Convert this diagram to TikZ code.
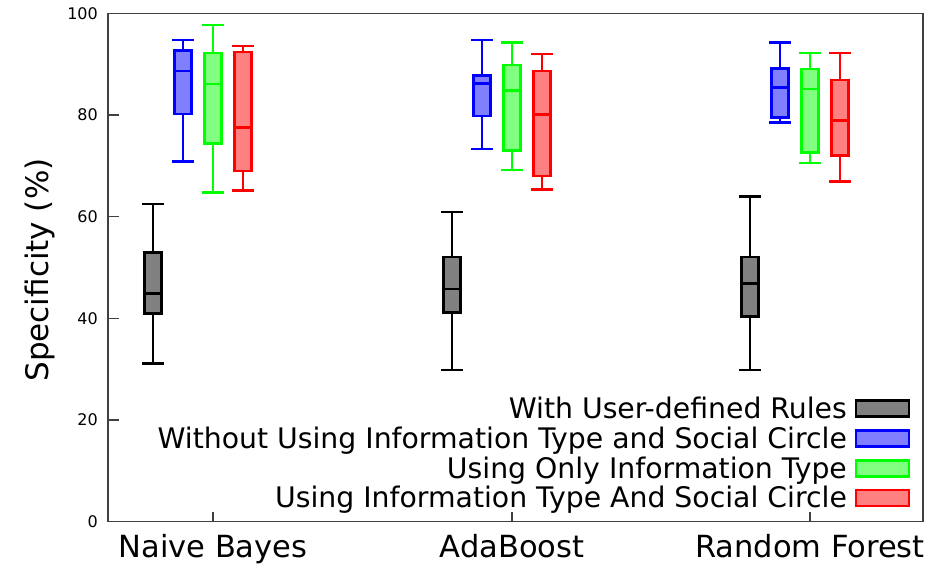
\documentclass[tikz,border=0pt]{standalone}
\usepackage{fontspec}
\setmainfont{DejaVu Sans}
\newcommand\bxplot[7]{% #1 x, #2 low, #3 q1, #4 med, #5 q3, #6 high, #7 colour
  \draw[whisk,#7] (#1,#2) -- (#1,#3) (#1,#5) -- (#1,#6)
    (#1-11,#2) -- (#1+11,#2) (#1-11,#6) -- (#1+11,#6);
  \filldraw[whisk,draw=#7,fill=#7!50] (#1-8.5,#3) rectangle (#1+8.5,#5);
  \draw[whisk,#7] (#1-8.5,#4) -- (#1+8.5,#4);
}
\begin{document}
\begin{tikzpicture}[x=1pt,y=1pt,
  frame/.style={draw=black!75,line width=1.8pt},
  whisk/.style={line width=2.6pt},
  ticklab/.style={font=\fontsize{16}{18}\selectfont,anchor=east,inner sep=0pt},
  catlab/.style={font=\fontsize{30.5}{34}\selectfont,anchor=base,inner sep=0pt},
  keylab/.style={font=\fontsize{28.3}{32}\selectfont,anchor=base east,inner sep=0pt},
  swatch/.style={whisk,draw=#1,fill=#1!50}]
\useasboundingbox (0,0) rectangle (940,568);
\begin{scope}[shift={(0,46.5)},y=5.08pt]
  % frame
  \draw[frame] (108,0) rectangle (923,100);
  % y ticks
  \foreach \v in {0,20,40,60,80,100}{
    \draw[frame,line width=1.4pt] (108,\v) -- (119,\v);
    \node[ticklab] (yt\v) at (98,\v) {\v};
  }
  % x ticks
  \foreach \xx in {213,512,810}{
    \draw[frame,line width=1.4pt] (\xx,0) -- (\xx,1.8);
  }
  % Naive Bayes
  \bxplot{153}{31.1}{40.9}{44.9}{52.9}{62.5}{black}
  \bxplot{183}{70.9}{80.2}{88.7}{92.7}{94.8}{blue}
  \bxplot{213}{64.8}{74.4}{86.1}{92.2}{97.7}{green}
  \bxplot{243}{65.1}{69.0}{77.5}{92.4}{93.6}{red}
  % AdaBoost
  \bxplot{452}{29.8}{41.2}{45.8}{52.1}{60.9}{black}
  \bxplot{482}{73.3}{79.8}{86.2}{87.8}{94.8}{blue}
  \bxplot{512}{69.2}{73.0}{84.9}{89.9}{94.3}{green}
  \bxplot{542}{65.4}{68.0}{80.1}{88.7}{92.0}{red}
  % Random Forest
  \bxplot{750}{29.8}{40.4}{46.8}{52.1}{64.0}{black}
  \bxplot{780}{78.6}{79.5}{85.4}{89.2}{94.3}{blue}
  \bxplot{810}{70.6}{72.6}{85.1}{89.1}{92.2}{green}
  \bxplot{840}{66.9}{72.0}{78.9}{86.9}{92.2}{red}
\end{scope}
% category labels
\node[catlab] (c1) at (213,11) {Naive Bayes};
\node[catlab] (c2) at (512,11) {AdaBoost};
\node[catlab] (c3) at (810,11) {Random Forest};
% y label
\node[font=\fontsize{31}{35}\selectfont,rotate=90] (ylab) at (40,298) {Specificity (\%)};
% legend
\node[keylab] (k1) at (847,149.3) {With User-defined Rules};
\node[keylab] (k2) at (847,119.7) {Without Using Information Type and Social Circle};
\node[keylab] (k3) at (847,89.7) {Using Only Information Type};
\node[keylab] (k4) at (847,60.2) {Using Information Type And Social Circle};
\filldraw[swatch=black] (856,151.3) rectangle (909,167.3);
\filldraw[swatch=blue] (856,121.7) rectangle (909,137.7);
\filldraw[swatch=green] (856,91.7) rectangle (909,107.7);
\filldraw[swatch=red] (856,62.2) rectangle (909,78.2);
\end{tikzpicture}
\end{document}
